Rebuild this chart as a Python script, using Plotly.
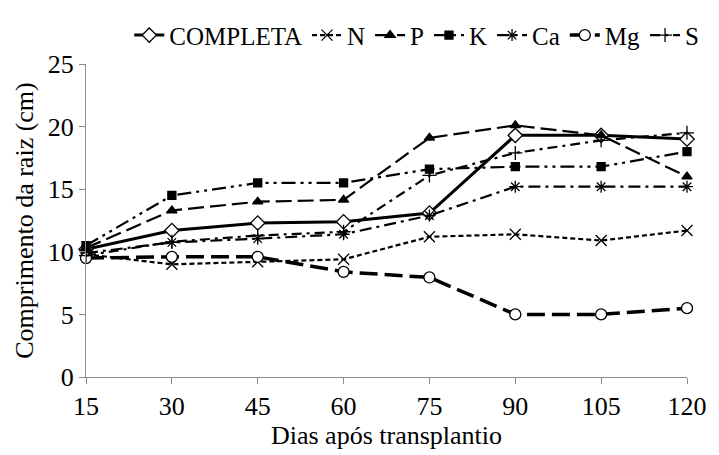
import plotly.graph_objects as go

# Days after transplanting
dias = [15, 30, 45, 60, 75, 90, 105, 120]

# Root length (cm) per nutrient treatment
completa = [10.2, 11.7, 12.3, 12.4, 13.1, 19.3, 19.3, 19.0]
n_omit = [9.8, 9.0, 9.2, 9.4, 11.2, 11.4, 10.9, 11.7]
p_omit = [10.3, 13.3, 14.0, 14.15, 19.1, 20.1, 19.3, 16.0]
k_omit = [10.5, 14.5, 15.5, 15.5, 16.6, 16.8, 16.8, 18.0]
ca_omit = [9.9, 10.75, 11.05, 11.4, 12.9, 15.2, 15.2, 15.2]
mg_omit = [9.5, 9.6, 9.6, 8.4, 7.95, 5.0, 5.0, 5.5]
s_omit = [9.7, 10.8, 11.3, 11.6, 16.1, 17.9, 18.9, 19.5]

yticks = [0, 5, 10, 15, 20, 25]

FONT = "'Liberation Serif', 'Times New Roman', serif"
AXIS_GRAY = "#8c8c8c"

# name, values, dash, line width, marker symbol, marker size, marker fill
series = [
    ("COMPLETA", completa, "solid", 3, "diamond", 11, "white"),
    ("N", n_omit, "5px,3px", 2.2, "x-thin-open", 11, "black"),
    ("P", p_omit, "16px,6px", 2.2, "triangle-up", 9, "black"),
    ("K", k_omit, "14px,5px,3px,5px,3px,5px", 2.2, "square", 8, "black"),
    ("Ca", ca_omit, "12px,5px,3px,5px", 2.2, "asterisk-open", 10, "black"),
    ("Mg", mg_omit, "18px,7px", 3.5, "circle", 11, "white"),
    ("S", s_omit, "10px,5px,3px,5px", 2.2, "cross-thin-open", 10, "black"),
]

fig = go.Figure()
for name, vals, dash, lw, sym, ms, fill in series:
    fig.add_trace(go.Scatter(
        x=dias, y=vals, name=name, mode="lines+markers",
        line=dict(color="black", width=lw, dash=dash),
        marker=dict(symbol=sym, size=ms, color=fill,
                    line=dict(color="black", width=1.3)),
        cliponaxis=False,
    ))

fig.update_layout(
    width=719, height=455,
    margin=dict(l=86, r=22, t=52, b=77),
    paper_bgcolor="white", plot_bgcolor="white",
    showlegend=True,
    legend=dict(
        orientation="h", x=0.072, xanchor="left", y=1.165, yanchor="top",
        font=dict(family=FONT, size=25, color="black"),
        itemwidth=30, traceorder="normal",
    ),
    xaxis=dict(
        range=[15, 120], tickvals=dias, ticktext=[str(d) for d in dias],
        showgrid=False, zeroline=False, showline=True, linecolor=AXIS_GRAY, linewidth=1,
        ticks="outside", ticklen=6, tickcolor=AXIS_GRAY,
        tickfont=dict(family=FONT, size=26, color="black"),
        title=dict(text="Dias após transplantio", font=dict(family=FONT, size=26, color="black"), standoff=4),
    ),
    yaxis=dict(
        range=[0, 25], tickvals=yticks,
        showgrid=False, zeroline=False, showline=True, linecolor=AXIS_GRAY, linewidth=1,
        ticks="outside", ticklen=6, tickcolor=AXIS_GRAY,
        tickfont=dict(family=FONT, size=26, color="black"),
        title=dict(text="Comprimento da raiz (cm)", font=dict(family=FONT, size=26, color="black"), standoff=6),
    ),
)

fig.write_html("out.html")
